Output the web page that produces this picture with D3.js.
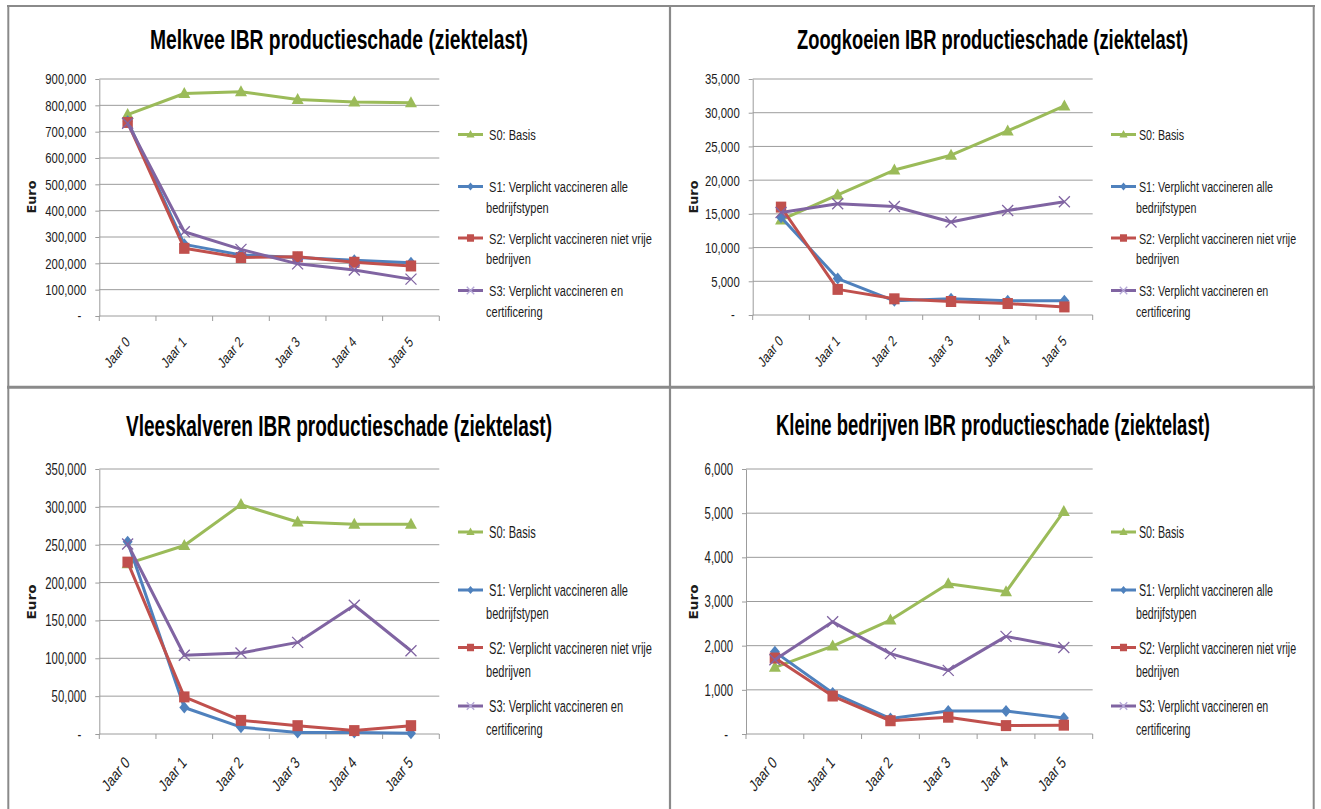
<!DOCTYPE html>
<html>
<head>
<meta charset="utf-8">
<script src="https://cdn.jsdelivr.net/npm/d3@7"></script>
<style>
  html, body { margin: 0; padding: 0; background: #fff; }
  svg { display: block; }
  text { font-family: "Liberation Sans Narrow", "Liberation Sans", Arial, sans-serif; fill: #1c1c1c; }
</style>
</head>
<body>
<svg id="chart" width="1321" height="809"></svg>
<script>
// ---- Data -------------------------------------------------------------
const categories = ["Jaar 0", "Jaar 1", "Jaar 2", "Jaar 3", "Jaar 4", "Jaar 5"];
const legendLabels = [
  ["S0: Basis"],
  ["S1: Verplicht vaccineren alle", "bedrijfstypen"],
  ["S2: Verplicht vaccineren niet vrije", "bedrijven"],
  ["S3: Verplicht vaccineren en", "certificering"]
];
const seriesColors = ["#9BBB59", "#4F81BD", "#C0504D", "#8064A2"];
const seriesMarkers = ["triangle", "diamond", "square", "cross"];
const axisTitle = "Euro";

// Melkvee
const melkveeTitle = "Melkvee IBR productieschade (ziektelast)";
const melkveeTicks = [0, 100000, 200000, 300000, 400000, 500000, 600000, 700000, 800000, 900000];
const melkveeS0 = [765000, 845000, 852000, 822000, 813000, 810000];
const melkveeS1 = [740000, 272000, 232000, 222000, 212000, 202000];
const melkveeS2 = [735000, 257000, 222000, 225000, 204000, 190000];
const melkveeS3 = [732000, 320000, 253000, 198000, 175000, 140000];

// Zoogkoeien
const zoogkoeienTitle = "Zoogkoeien IBR productieschade (ziektelast)";
const zoogkoeienTicks = [0, 5000, 10000, 15000, 20000, 25000, 30000, 35000];
const zoogkoeienS0 = [14100, 17800, 21500, 23700, 27300, 31000];
const zoogkoeienS1 = [14500, 5400, 2100, 2400, 2100, 2100];
const zoogkoeienS2 = [16000, 3800, 2400, 2000, 1700, 1200];
const zoogkoeienS3 = [15200, 16500, 16100, 13800, 15500, 16800];

// Vleeskalveren
const vleeskalverenTitle = "Vleeskalveren IBR productieschade (ziektelast)";
const vleeskalverenTicks = [0, 50000, 100000, 150000, 200000, 250000, 300000, 350000];
const vleeskalverenS0 = [225000, 249000, 303000, 280000, 277000, 277000];
const vleeskalverenS1 = [254000, 35000, 9000, 2000, 2000, 1000];
const vleeskalverenS2 = [227000, 49000, 18000, 11000, 4500, 11000];
const vleeskalverenS3 = [251000, 104000, 107000, 121000, 170000, 110000];

// Kleine bedrijven
const kleineTitle = "Kleine bedrijven IBR productieschade (ziektelast)";
const kleineTicks = [0, 1000, 2000, 3000, 4000, 5000, 6000];
const kleineS0 = [1510, 1990, 2580, 3400, 3220, 5040];
const kleineS1 = [1860, 930, 350, 520, 520, 360];
const kleineS2 = [1720, 860, 300, 380, 190, 200];
const kleineS3 = [1680, 2540, 1820, 1440, 2210, 1960];

const panelData = [
  { title: melkveeTitle, ticks: melkveeTicks, series: [melkveeS0, melkveeS1, melkveeS2, melkveeS3] },
  { title: zoogkoeienTitle, ticks: zoogkoeienTicks, series: [zoogkoeienS0, zoogkoeienS1, zoogkoeienS2, zoogkoeienS3] },
  { title: vleeskalverenTitle, ticks: vleeskalverenTicks, series: [vleeskalverenS0, vleeskalverenS1, vleeskalverenS2, vleeskalverenS3] },
  { title: kleineTitle, ticks: kleineTicks, series: [kleineS0, kleineS1, kleineS2, kleineS3] }
];

// ---- Layout -----------------------------------------------------------
const layout = [
  { left: 99.3, right: 439.3, top: 79, bottom: 316, vs: 1,
    legX: 458, legTextX: 489, legWrapX: 486, legRows: [134.5, 186.5, 238, 290.5], legGap: 20.5, legRef: 139,
    titleX: 339, titleY: 49, titleW: 378, euroX: 36, euroY: 197, euroW: 33 },
  { left: 752.7, right: 1092.7, top: 79, bottom: 315, vs: 1,
    legX: 1111, legTextX: 1139, legWrapX: 1136, legRows: [134.5, 186.5, 238, 290.5], legGap: 20.5, legRef: 134,
    titleX: 992.5, titleY: 49, titleW: 391, euroX: 698, euroY: 197, euroW: 33 },
  { left: 99.3, right: 439.3, top: 469, bottom: 734, vs: 1.1,
    legX: 458, legTextX: 489, legWrapX: 486, legRows: [532, 590, 647.5, 706], legGap: 23, legRef: 139,
    titleX: 339, titleY: 436, titleW: 426, euroX: 36, euroY: 602, euroW: 35 },
  { left: 746, right: 1092.7, top: 469, bottom: 734, vs: 1.1,
    legX: 1111, legTextX: 1139, legWrapX: 1136, legRows: [532, 590, 647.5, 706], legGap: 23, legRef: 134,
    titleX: 993, titleY: 435, titleW: 434, euroX: 698, euroY: 602, euroW: 35 }
];

const svg = d3.select("#chart");
svg.append("rect").attr("width", 1321).attr("height", 809).attr("fill", "#fff");

// Natural width of a string for a given font size / weight.
function naturalWidth(str, size, weight) {
  const t = svg.append("text").attr("font-size", size).attr("font-weight", weight || "normal").text(str);
  const w = t.node().getComputedTextLength();
  t.remove();
  return w;
}
// Condense every text of a selection by factor k.
function condense(sel, k) {
  sel.each(function () {
    const w = this.getComputedTextLength();
    d3.select(this).attr("textLength", w * k).attr("lengthAdjust", "spacingAndGlyphs");
  });
}

function markerPath(type, s) {
  switch (type) {
    case "triangle": return `M0,${-6.5 * s}L${6 * s},${4.5 * s}L${-6 * s},${4.5 * s}Z`;
    case "diamond": return `M0,${-6 * s}L${5 * s},0L0,${6 * s}L${-5 * s},0Z`;
    case "square": return `M${-5.2 * s},${-5.5 * s}h${10.4 * s}v${11 * s}h${-10.4 * s}Z`;
    default: return `M${-5.5 * s},${-5.5 * s}L${5.5 * s},${5.5 * s}M${5.5 * s},${-5.5 * s}L${-5.5 * s},${5.5 * s}`;
  }
}
function drawMarker(g, type, color, s) {
  const p = g.append("path").attr("d", markerPath(type, s));
  if (type === "cross") p.attr("fill", "none").attr("stroke", color).attr("stroke-width", 1.3);
  else p.attr("fill", color);
  return p;
}

const fmt = d3.format(",");
const gridColor = "#9c9c9c";

panelData.forEach((pd, i) => {
  const L = layout[i];
  const g = svg.append("g");
  const x = d3.scaleBand().domain(categories).range([L.left, L.right]);
  const y = d3.scaleLinear().domain([0, d3.max(pd.ticks)]).range([L.bottom, L.top]);

  // Title
  g.append("text")
    .attr("x", L.titleX).attr("y", L.titleY)
    .attr("text-anchor", "middle")
    .attr("font-size", 27.5 * L.vs).attr("font-weight", "bold")
    .style("fill", "#000")
    .attr("textLength", L.titleW).attr("lengthAdjust", "spacingAndGlyphs")
    .text(pd.title);

  // Gridlines
  g.append("g").selectAll("line").data(pd.ticks).join("line")
    .attr("x1", L.left).attr("x2", L.right)
    .attr("y1", d => y(d)).attr("y2", d => y(d))
    .attr("stroke", gridColor).attr("stroke-width", 1);

  // Y axis
  const yAxis = g.append("g").attr("transform", `translate(${L.left},0)`)
    .call(d3.axisLeft(y).tickValues(pd.ticks).tickSize(4).tickSizeOuter(0).tickPadding(9)
      .tickFormat(d => d === 0 ? "-" : fmt(d)));
  yAxis.select(".domain").attr("stroke", gridColor);
  yAxis.selectAll(".tick line").attr("stroke", gridColor);
  const tickSize = 15.5 * L.vs;
  const yLabels = yAxis.selectAll(".tick text")
    .attr("font-size", tickSize).style("font-family", null).attr("fill", "#1c1c1c");
  const kTick = 41 / naturalWidth("900,000", tickSize);
  condense(yLabels, kTick);
  yLabels.filter(d => d === 0).attr("dx", -5);

  // X axis: baseline ticks at band boundaries
  const bounds = categories.map(c => x(c)).concat([L.right]);
  g.append("g").selectAll("line").data(bounds).join("line")
    .attr("x1", d => d).attr("x2", d => d)
    .attr("y1", L.bottom).attr("y2", L.bottom + 5)
    .attr("stroke", gridColor);

  const xSize = 15.5 * L.vs;
  const kX = (37 * L.vs) / naturalWidth("Jaar 0", xSize);
  const xLabels = g.append("g").selectAll("text").data(categories).join("text")
    .attr("text-anchor", "end")
    .attr("font-size", xSize)
    .attr("transform", d => `translate(${x(d) + x.bandwidth() / 2 + 3},${L.bottom + 27 * L.vs}) scale(0.8,1) rotate(-45)`)
    .text(d => d);
  condense(xLabels, kX);

  // Axis title
  g.append("text")
    .attr("transform", `translate(${L.euroX},${L.euroY}) rotate(-90)`)
    .attr("text-anchor", "middle")
    .style("font-family", "'DejaVu Sans', Verdana, sans-serif")
    .attr("font-size", 11.5).attr("font-weight", "bold")
    .attr("textLength", L.euroW).attr("lengthAdjust", "spacingAndGlyphs")
    .text(axisTitle);

  // Series
  const line = d3.line().x((d, j) => x(categories[j]) + x.bandwidth() / 2).y(d => y(d));
  pd.series.forEach((vals, s) => {
    const sg = g.append("g");
    sg.append("path").attr("d", line(vals))
      .attr("fill", "none").attr("stroke", seriesColors[s])
      .attr("stroke-width", 3).attr("stroke-linejoin", "round");
    vals.forEach((v, j) => {
      const mg = sg.append("g")
        .attr("transform", `translate(${x(categories[j]) + x.bandwidth() / 2},${y(v)})`);
      drawMarker(mg, seriesMarkers[s], seriesColors[s], 1);
    });
  });

  // Legend
  const legSize = 15.5 * L.vs;
  const kLeg = L.legRef / naturalWidth("S1: Verplicht vaccineren alle", legSize);
  legendLabels.forEach((lines, s) => {
    const cy = L.legRows[s];
    const lg = g.append("g");
    lg.append("line").attr("x1", L.legX).attr("x2", L.legX + 25)
      .attr("y1", cy).attr("y2", cy)
      .attr("stroke", seriesColors[s]).attr("stroke-width", 3);
    const mg = lg.append("g").attr("transform", `translate(${L.legX + 12.5},${cy})`);
    drawMarker(mg, seriesMarkers[s], s === 3 ? "#b4a7d6" : seriesColors[s], 0.68);
    const texts = lg.selectAll("text").data(lines).join("text")
      .attr("x", (d, k) => k === 0 ? L.legTextX : L.legWrapX)
      .attr("y", (d, k) => cy + 5.5 * L.vs + k * L.legGap)
      .attr("font-size", legSize)
      .text(d => d);
    condense(texts, kLeg);
  });
});

// Panel frames
const frame = svg.append("g").attr("stroke", "#8a8a8a").attr("fill", "none");
frame.append("line").attr("x1", 7).attr("x2", 1315).attr("y1", 6).attr("y2", 6).attr("stroke-width", 2);
frame.append("line").attr("x1", 8.3).attr("x2", 8.3).attr("y1", 5).attr("y2", 809).attr("stroke-width", 2);
frame.append("line").attr("x1", 670).attr("x2", 670).attr("y1", 5).attr("y2", 809).attr("stroke-width", 2.2);
frame.append("line").attr("x1", 1313.7).attr("x2", 1313.7).attr("y1", 5).attr("y2", 809).attr("stroke-width", 2);
frame.append("line").attr("x1", 7).attr("x2", 1315).attr("y1", 387.3).attr("y2", 387.3).attr("stroke-width", 3);
</script>
</body>
</html>
